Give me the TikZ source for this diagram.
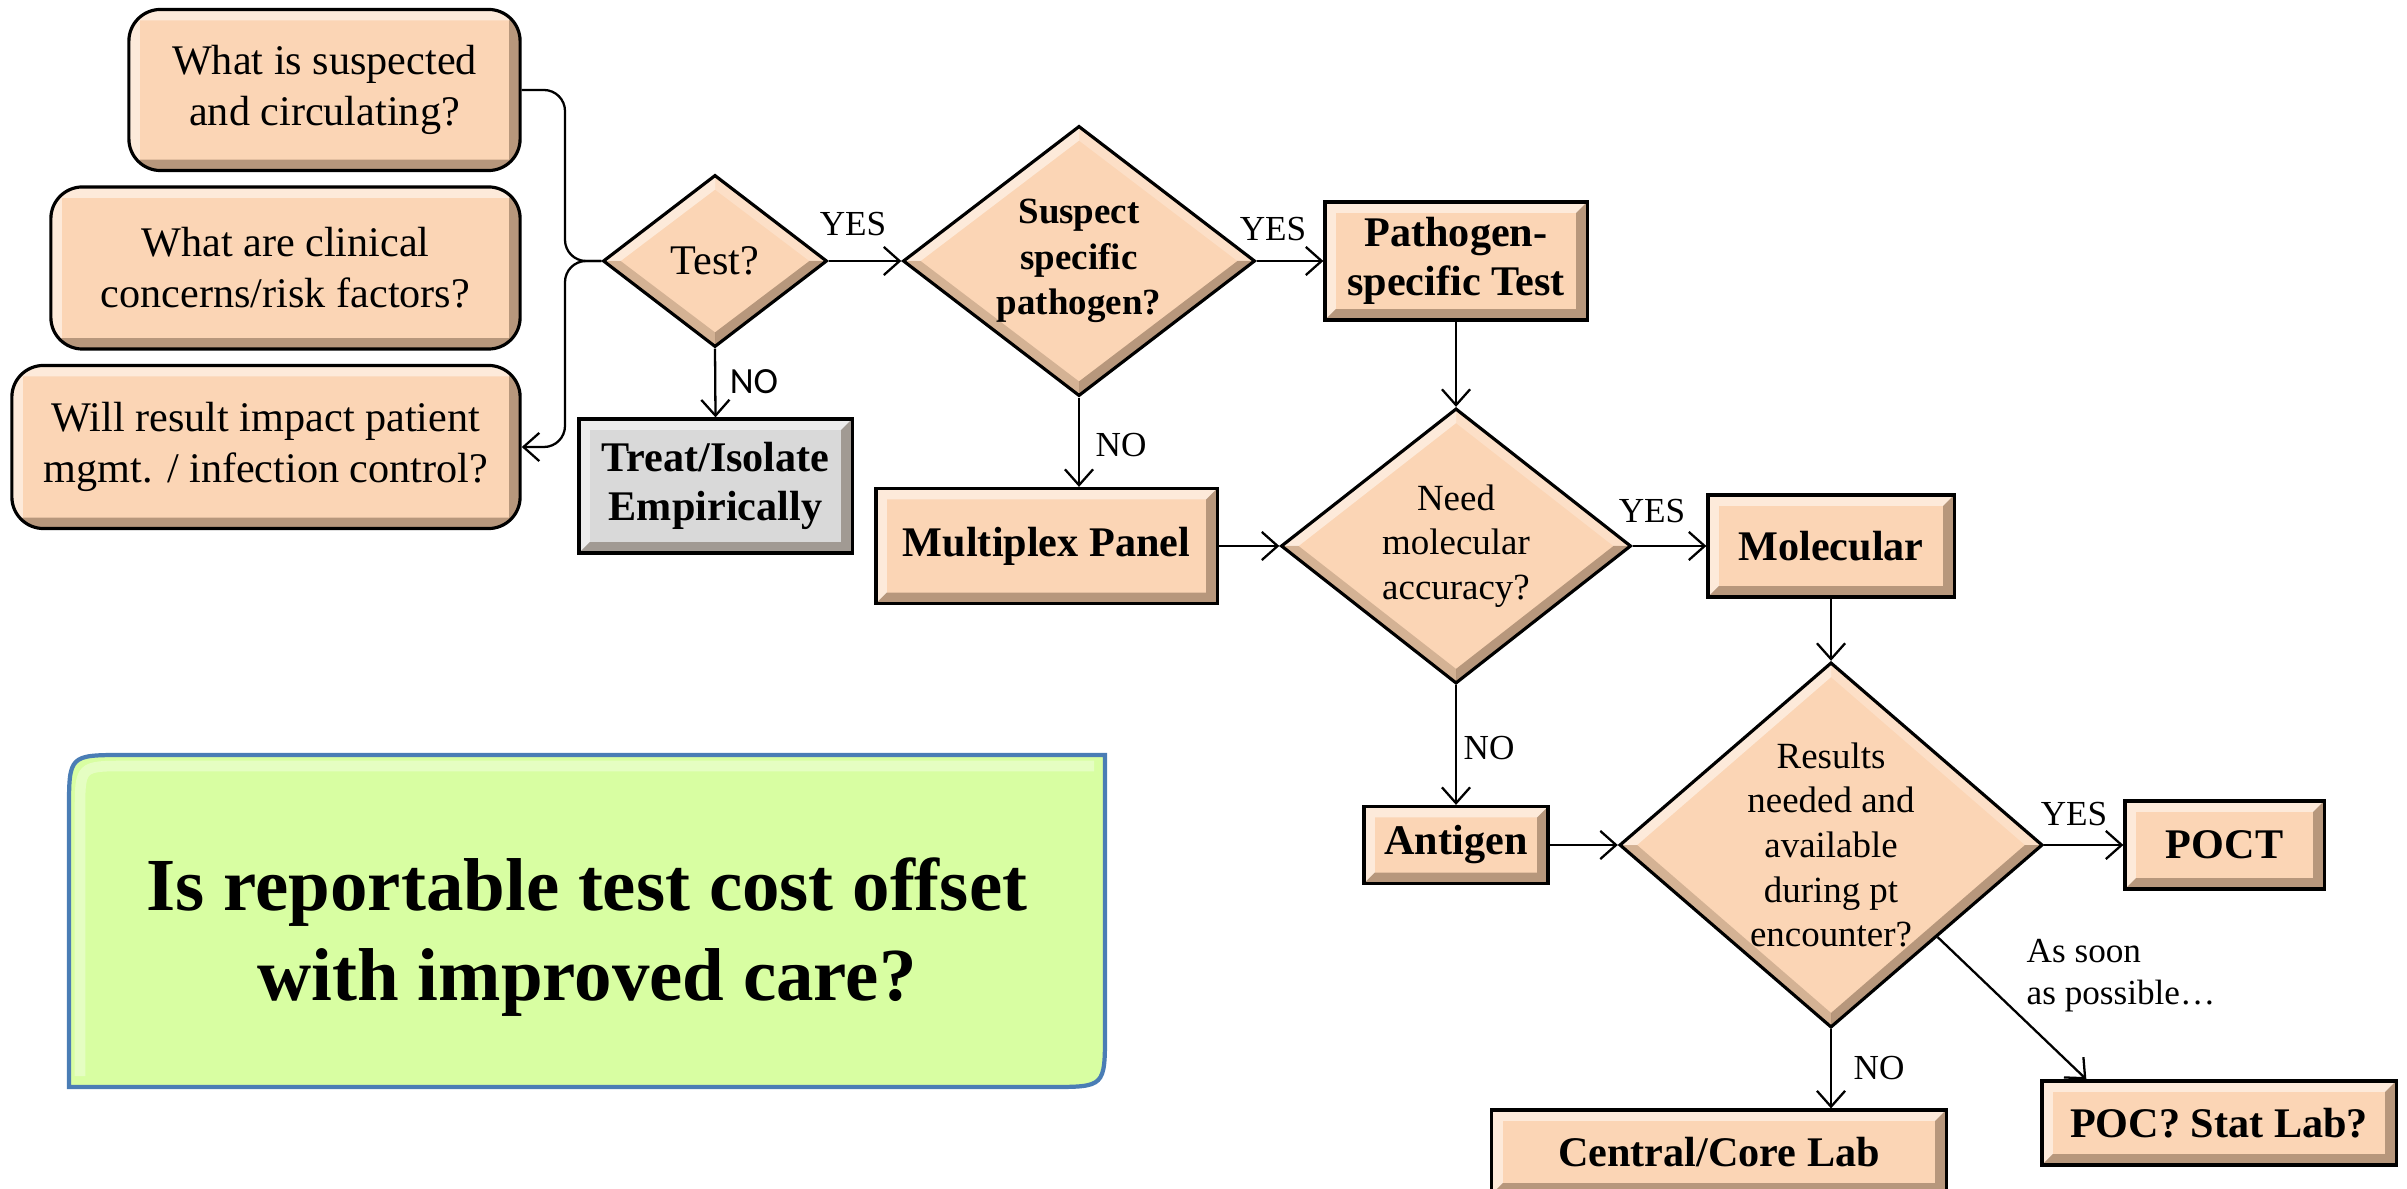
\documentclass[tikz,border=0pt]{standalone}
\usepackage{fontspec}
\setmainfont{Liberation Serif}
\newfontfamily\labelsans{Carlito}
\usetikzlibrary{shapes.geometric,arrows.meta,positioning,calc}
\definecolor{PE}{HTML}{FBD5B5}
\definecolor{GR}{HTML}{D9D9D9}
\definecolor{LG}{HTML}{D8FEA2}
\definecolor{LB}{HTML}{4A7DB5}
% bevel widths
\newcommand\bevw{0.11cm}
\newcommand\dvx{0.17cm}
\newcommand\dvy{0.14cm}
\tikzset{
  rectbevel/.style={path picture={
    \fill[white,opacity=.5,sharp corners]
      (path picture bounding box.south west) -- (path picture bounding box.north west)
      -- (path picture bounding box.north east)
      -- ([xshift=-\bevw,yshift=-\bevw]path picture bounding box.north east)
      -- ([xshift=\bevw,yshift=-\bevw]path picture bounding box.north west)
      -- ([xshift=\bevw,yshift=\bevw]path picture bounding box.south west) -- cycle;
    \fill[black!70!brown,opacity=.35,sharp corners]
      (path picture bounding box.south west) -- (path picture bounding box.south east)
      -- (path picture bounding box.north east)
      -- ([xshift=-\bevw,yshift=-\bevw]path picture bounding box.north east)
      -- ([xshift=-\bevw,yshift=\bevw]path picture bounding box.south east)
      -- ([xshift=\bevw,yshift=\bevw]path picture bounding box.south west) -- cycle;
  }},
  diabevel/.style={path picture={
    \fill[white,opacity=.5]
      (path picture bounding box.west) -- (path picture bounding box.north)
      -- ([yshift=-\dvy]path picture bounding box.north)
      -- ([xshift=\dvx]path picture bounding box.west) -- cycle;
    \fill[white,opacity=.25]
      (path picture bounding box.north) -- (path picture bounding box.east)
      -- ([xshift=-\dvx]path picture bounding box.east)
      -- ([yshift=-\dvy]path picture bounding box.north) -- cycle;
    \fill[black!70!brown,opacity=.35]
      (path picture bounding box.east) -- (path picture bounding box.south)
      -- ([yshift=\dvy]path picture bounding box.south)
      -- ([xshift=-\dvx]path picture bounding box.east) -- cycle;
    \fill[black!70!brown,opacity=.2]
      (path picture bounding box.south) -- (path picture bounding box.west)
      -- ([xshift=\dvx]path picture bounding box.west)
      -- ([yshift=\dvy]path picture bounding box.south) -- cycle;
  }},
  question/.style={draw, line width=0.9pt, fill=PE, rounded corners=9pt, rectbevel,
    align=center, inner sep=0pt, font=\fontsize{12}{14.5}\selectfont},
  stepbox/.style={draw, line width=0.9pt, fill=PE, rectbevel,
    align=center, inner sep=0pt, font=\fontsize{12}{14}\selectfont\bfseries},
  decide/.style={diamond, draw, line width=0.9pt, fill=PE, diabevel,
    align=center, inner sep=0pt, font=\fontsize{10.5}{12.7}\selectfont},
  flow/.style={-{Straight Barb[length=4.5pt,width=8pt]}, line width=0.65pt},
  yesno/.style={font=\fontsize{10}{12}\selectfont},
}

\begin{document}
\begin{tikzpicture}[x=0.01cm, y=-0.01cm]
  \useasboundingbox (0,0) rectangle (2407,1189);

  % questions on the left
  \node[question, minimum width=3.91cm, minimum height=1.61cm] (q1) at (324.5,90)
    {What is suspected\\and circulating?};
  \node[question, minimum width=4.69cm, minimum height=1.62cm] (q2) at (285.5,268)
    {What are clinical\\concerns/risk factors?};
  \node[question, minimum width=5.08cm, minimum height=1.63cm] (q3) at (266,447)
    {Will result impact patient\\mgmt. / infection control?};

  % decisions
  \node[decide, aspect=1.3, minimum width=2.24cm, minimum height=1.72cm,
        font=\fontsize{12}{14}\selectfont] (test) at (715,261) {Test?};
  \node[decide, aspect=1.3, minimum width=3.52cm, minimum height=2.70cm,
        font=\fontsize{10.5}{13}\selectfont\bfseries] (suspect) at (1079,261)
    {Suspect\\specific\\pathogen?};
  \node[decide, aspect=1.27, minimum width=3.50cm, minimum height=2.75cm] (need) at (1456,546)
    {Need\\molecular\\accuracy?};
  \node[decide, aspect=1.16, minimum width=4.23cm, minimum height=3.65cm] (res) at (1831,845)
    {Results\\needed and\\available\\during pt\\encounter?};

  % tests and labs
  \node[stepbox, fill=GR, minimum width=2.73cm, minimum height=1.34cm] (treat) at (715.5,486)
    {Treat/Isolate\\Empirically};
  \node[stepbox, minimum width=2.62cm, minimum height=1.18cm] (patho) at (1456,261)
    {Pathogen-\\specific Test};
  \node[stepbox, minimum width=3.41cm, minimum height=1.15cm] (multi) at (1046.5,546)
    {Multiplex Panel};
  \node[stepbox, minimum width=2.46cm, minimum height=1.02cm] (mol) at (1831,546)
    {Molecular};
  \node[stepbox, minimum width=1.84cm, minimum height=0.77cm] (anti) at (1456,845)
    {Antigen};
  \node[stepbox, minimum width=1.99cm, minimum height=0.88cm] (poct) at (2224.5,845)
    {POCT};
  \node[stepbox, minimum width=3.54cm, minimum height=0.84cm] (poc) at (2219,1123)
    {POC? Stat Lab?};
  \node[stepbox, minimum width=4.54cm, minimum height=0.84cm] (central) at (1719,1152)
    {Central/Core Lab};

  % bracket between the questions and Test?
  \coordinate (brk) at (565,261);
  \draw[line width=0.65pt, rounded corners=6pt] (q1.east) -| (brk) -- (test.west);
  \draw[flow, rounded corners=6pt] (test.west) -- (brk) |- (q3.east);

  % connectors
  \draw[flow] (test.east) -- (suspect.west);
  \draw[flow] (test.south) -- (treat.north);
  \draw[flow] (suspect.east) -- (patho.west);
  \draw[flow] (suspect.south) -- (suspect.south |- multi.north);
  \draw[flow] (patho.south) -- (need.north);
  \draw[flow] (multi.east) -- (need.west);
  \draw[flow] (need.east) -- (mol.west);
  \draw[flow] (need.south) -- (anti.north);
  \draw[flow] (mol.south) -- (res.north);
  \draw[flow] (anti.east) -- (res.west);
  \draw[flow] (res.east) -- (poct.west);
  \draw[flow] (res.south) -- (res.south |- central.north);
  \draw[flow] (res.south east) -- ([xshift=0.46cm]poc.north west);

  % branch labels
  \node[yesno] (yes1) at (853,224) {YES};
  \node[yesno] (yes2) at (1273,229) {YES};
  \node[yesno] (yes3) at (1652,511) {YES};
  \node[yesno] (yes4) at (2074,814) {YES};
  \node[font=\labelsans\fontsize{10.5}{12}\selectfont] (no1) at (754,382) {NO};
  \node[yesno] (no2) at (1121,445) {NO};
  \node[yesno] (no3) at (1489,748) {NO};
  \node[yesno] (no4) at (1879,1068) {NO};
  \node[yesno, anchor=west, align=left, inner sep=0pt] (asap) at (2026,976)
    {As soon\\as possible…};

  % cost question
  \draw[LB, line width=1.2pt, fill=LG] (69,1087) -- (69,810) .. controls (69,755) .. (124,755)
    -- (1105,755) -- (1105,1032) .. controls (1105,1087) .. (1050,1087) -- cycle;
  \draw[white, opacity=.35, line width=3pt] (80,1076) -- (80,812) .. controls (80,766) .. (126,766)
    -- (1094,766);
  \node[font=\fontsize{21.3}{25.6}\selectfont\bfseries, align=center] (cost) at (587,937)
    {Is reportable test cost offset\\with improved care?};
\end{tikzpicture}
\end{document}
